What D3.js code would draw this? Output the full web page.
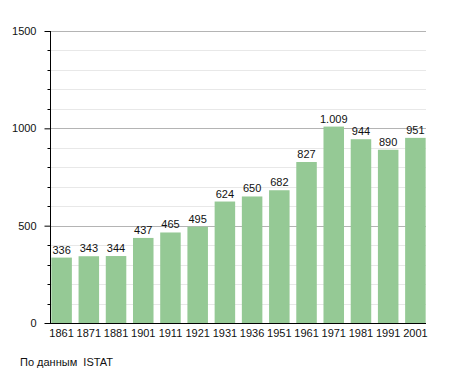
<!DOCTYPE html>
<html><head><meta charset="utf-8">
<script src="https://cdn.jsdelivr.net/npm/d3@7"></script>
<style>body{margin:0;background:#fff}svg{display:block}text{font-family:"Liberation Sans",Arial,sans-serif;fill:#111}</style>
</head><body><svg id="c" width="455" height="373"></svg>
<script>
const years = ["1861","1871","1881","1901","1911","1921","1931","1936","1951","1961","1971","1981","1991","2001"];
const population = [336,343,344,437,465,495,624,650,682,827,1009,944,890,951];
const valueLabels = ["336","343","344","437","465","495","624","650","682","827","1.009","944","890","951"];
const majorTicks = [0,500,1000,1500];
const minorTicks = d3.range(0,1501,100);
const source = "По данным  ISTAT";

const svg = d3.select("#c");
const x0 = 50.5, x1 = 426, yTop = 31, yBot = 323;
const x = d3.scaleBand().domain(years).range([48,429]).paddingInner(0.246).paddingOuter(0.123);
const y = d3.scaleLinear().domain([0,1500]).range([yBot,yTop]);

// minor grid
svg.append("g").selectAll("line").data(minorTicks.filter(d=>d%500!==0)).join("line")
  .attr("x1",x0).attr("x2",x1).attr("y1",d=>Math.round(y(d))+0.5).attr("y2",d=>Math.round(y(d))+0.5)
  .attr("stroke","#e8e8e8").attr("stroke-width",1);
// major grid
svg.append("g").selectAll("line").data(majorTicks.filter(d=>d>0)).join("line")
  .attr("x1",x0).attr("x2",x1).attr("y1",d=>Math.round(y(d))+0.5).attr("y2",d=>Math.round(y(d))+0.5)
  .attr("stroke","#b4b4b4").attr("stroke-width",1);

// bars
svg.append("g").selectAll("rect").data(population).join("rect")
  .attr("x",(d,i)=>x(years[i])).attr("width",x.bandwidth())
  .attr("y",d=>y(d)).attr("height",d=>yBot-y(d))
  .attr("fill","#95c995");

// value labels
svg.append("g").selectAll("text").data(population).join("text")
  .attr("x",(d,i)=>x(years[i])+x.bandwidth()/2).attr("y",d=>y(d)-4)
  .attr("text-anchor","middle").attr("font-size",11).text((d,i)=>valueLabels[i]);

// y axis
const ya = d3.axisLeft(y).tickValues(majorTicks).tickSize(6).tickPadding(8).tickFormat(d3.format("d"));
const gy = svg.append("g").attr("transform",`translate(${x0},0)`).call(ya);
gy.select(".domain").remove();
gy.selectAll("text").attr("font-size",11).style("font-family","Liberation Sans, Arial, sans-serif").attr("fill","#111");
gy.selectAll("line").attr("stroke","#000");
// minor y ticks
svg.append("g").selectAll("line").data(minorTicks.filter(d=>d%500!==0)).join("line")
  .attr("x1",x0-3).attr("x2",x0).attr("y1",d=>Math.round(y(d))+0.5).attr("y2",d=>Math.round(y(d))+0.5)
  .attr("stroke","#000");
svg.append("line").attr("x1",x0).attr("x2",x0).attr("y1",yTop).attr("y2",yBot).attr("stroke","#000");

// x axis
const xa = d3.axisBottom(x).tickSize(0).tickPadding(6);
const gx = svg.append("g").attr("transform",`translate(0,${yBot})`).call(xa);
gx.select(".domain").remove();
gx.selectAll("text").attr("font-size",11).style("font-family","Liberation Sans, Arial, sans-serif").attr("fill","#111");
svg.append("line").attr("x1",x0-0.5).attr("x2",x1).attr("y1",yBot+0.5).attr("y2",yBot+0.5).attr("stroke","#000");

svg.append("text").attr("x",20).attr("y",366).attr("font-size",11).style("white-space","pre").text(source);
</script></body></html>
